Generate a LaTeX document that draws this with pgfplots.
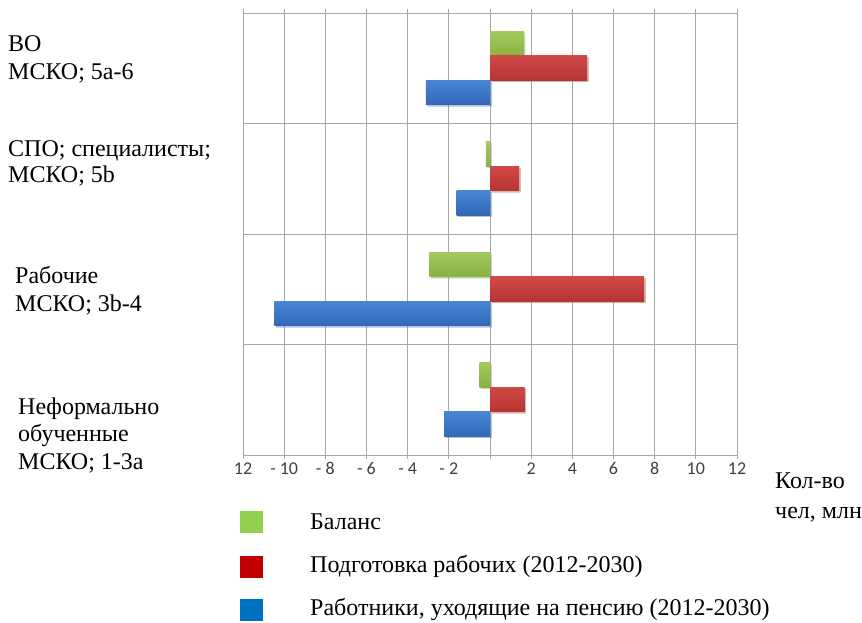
\documentclass[border=0pt]{standalone}
\usepackage{pgfplots}
\pgfplotsset{compat=1.18}
\usetikzlibrary{shadows}
\usepackage{fontspec}
\setmainfont{Liberation Serif}
\newfontfamily\calibri{Carlito}
\definecolor{gridgray}{HTML}{A6A6A6}
\definecolor{lgreen}{HTML}{92D050}
\definecolor{lred}{HTML}{C00000}
\definecolor{lblue}{HTML}{0070C0}
\definecolor{gtop}{HTML}{A3C95C}
\definecolor{gbot}{HTML}{8AB142}
\definecolor{rtop}{HTML}{D04846}
\definecolor{rbot}{HTML}{B53533}
\definecolor{btop}{HTML}{4786D3}
\definecolor{bbot}{HTML}{3168B6}
\newcommand{\lbl}{\fontsize{24}{28}\selectfont}
\begin{document}
\begin{tikzpicture}[x=1pt,y=1pt]
\useasboundingbox (0,0) rectangle (862,623);
\begin{axis}[
  at={(243pt,168pt)}, anchor=south west,
  width=494pt, height=442pt, scale only axis,
  xmin=-12, xmax=12, ymin=-0.5, ymax=3.5,
  xtick={-12,-10,...,12},
  xticklabels={12,- 10,- 8,- 6,- 4,- 2,,2,4,6,8,10,12},
  ytick={-0.5,0.5,1.5,2.5,3.5}, yticklabels={},
  xmajorgrids, ymajorgrids,
  grid style={gridgray, line width=0.8pt},
  axis line style={gridgray, line width=0.8pt},
  tick style={gridgray, line width=0.8pt},
  tick align=outside, major tick length=4pt,
  ytick style={draw=none},
  xticklabel style={font=\calibri\fontsize{18}{18}\selectfont, text=black!75},
  xbar, bar width=24.5pt,
  gbar/.style={draw=none, top color=gtop, bottom color=gbot, bar shift=24.5pt,
    drop shadow={shadow xshift=1.5pt, shadow yshift=-1.5pt, opacity=0.25}},
  rbar/.style={draw=none, top color=rtop, bottom color=rbot, bar shift=0pt,
    drop shadow={shadow xshift=1.5pt, shadow yshift=-1.5pt, opacity=0.25}},
  bbar/.style={draw=none, top color=btop, bottom color=bbot, bar shift=-24.5pt,
    drop shadow={shadow xshift=1.5pt, shadow yshift=-1.5pt, opacity=0.25}},
]
% Баланс
\addplot[gbar] coordinates {(1.65,3)};
\addplot[gbar] coordinates {(-0.2,2)};
\addplot[gbar] coordinates {(-2.95,1)};
\addplot[gbar] coordinates {(-0.5,0)};
% Подготовка рабочих
\addplot[rbar] coordinates {(4.72,3)};
\addplot[rbar] coordinates {(1.41,2)};
\addplot[rbar] coordinates {(7.49,1)};
\addplot[rbar] coordinates {(1.68,0)};
% Работники, уходящие на пенсию
\addplot[bbar] coordinates {(-3.12,3)};
\addplot[bbar] coordinates {(-1.62,2)};
\addplot[bbar] coordinates {(-10.47,1)};
\addplot[bbar] coordinates {(-2.23,0)};
\end{axis}
% category labels
\node[anchor=base west, inner sep=0] at (8,623-52) {\lbl ВО};
\node[anchor=base west, inner sep=0] at (8,623-80) {\lbl МСКО; 5а-6};
\node[anchor=base west, inner sep=0] at (8,623-157) {\lbl СПО; специалисты;};
\node[anchor=base west, inner sep=0] at (8,623-183) {\lbl МСКО; 5b};
\node[anchor=base west, inner sep=0] at (15,623-284) {\lbl Рабочие};
\node[anchor=base west, inner sep=0] at (15,623-312) {\lbl МСКО; 3b-4};
\node[anchor=base west, inner sep=0] at (18,623-415) {\lbl Неформально};
\node[anchor=base west, inner sep=0] at (18,623-442) {\lbl обученные};
\node[anchor=base west, inner sep=0] at (18,623-470) {\lbl МСКО; 1-3а};
% axis unit label
\node[anchor=base west, inner sep=0] at (775,623-489) {\lbl Кол-во};
\node[anchor=base west, inner sep=0] at (775,623-519) {\lbl чел, млн};
% legend
\fill[lgreen] (240,623-533) rectangle (263,623-511);
\fill[lred] (240,623-578) rectangle (263,623-556);
\fill[lblue] (240,623-621) rectangle (263,623-599);
\node[anchor=base west, inner sep=0] at (310,623-530) {\lbl Баланс};
\node[anchor=base west, inner sep=0] at (310,623-573) {\lbl Подготовка рабочих (2012-2030)};
\node[anchor=base west, inner sep=0] at (310,623-616) {\lbl Работники, уходящие на пенсию (2012-2030)};
\end{tikzpicture}
\end{document}
